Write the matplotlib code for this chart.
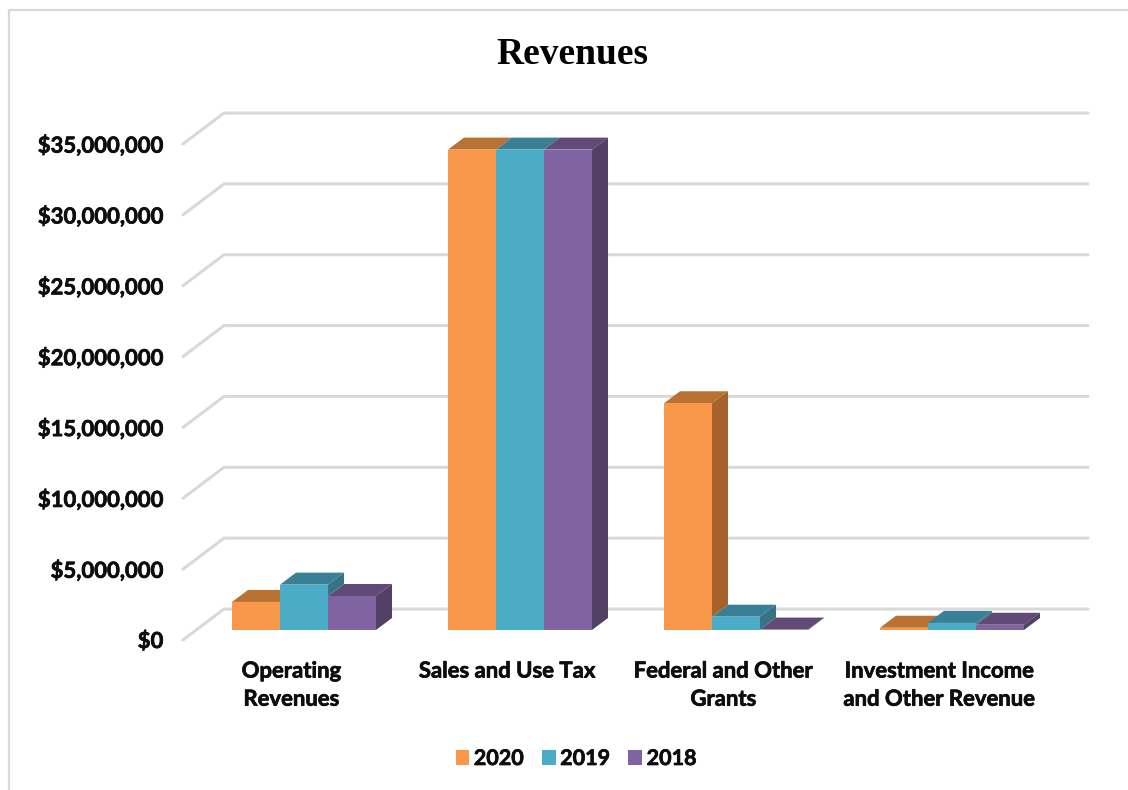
import matplotlib
matplotlib.use('Agg')
import matplotlib.pyplot as plt
import matplotlib.patheffects as pe
from matplotlib.patches import Polygon, Patch
from matplotlib.transforms import ScaledTranslation

categories = ['Operating\nRevenues', 'Sales and Use Tax', 'Federal and Other\nGrants',
              'Investment Income\nand Other Revenue']
rev_2020 = [1980000, 33900000, 16000000, 160000]
rev_2019 = [3200000, 33900000, 940000, 500000]
rev_2018 = [2400000, 33900000, 30000, 370000]
years = ['2020', '2019', '2018']
y_ticks = [0, 5000000, 10000000, 15000000, 20000000, 25000000, 30000000, 35000000]
y_labels = ['$0', '$5,000,000', '$10,000,000', '$15,000,000', '$20,000,000',
            '$25,000,000', '$30,000,000', '$35,000,000']

front_col = ['#F9974A', '#4AACC6', '#8064A2']
top_col = ['#B97232', '#398096', '#614A78']
side_col = ['#A5622B', '#357385', '#524065']
grid_col = '#D9D9D9'

W, H = 1128, 790
DPI = 100
plt.rcParams['font.family'] = ['Lato', 'DejaVu Sans']

fig = plt.figure(figsize=(W / DPI, H / DPI), dpi=DPI)
# axes box is the plane of the bar fronts, in pixels of the picture
left, right, base, top = 196, 1060, 630, 134
ax = fig.add_axes([left / W, 1 - base / H, (right - left) / W, (base - top) / H])
ax.set_xlim(-0.5, 3.5)
ax.set_ylim(0, 35000000)
ax.patch.set_visible(False)
for s in ax.spines.values():
    s.set_visible(False)

px_x = 4 / (right - left)
px_y = 35000000 / (base - top)


def off(x, y, dx, dy):
    # shift a data point by a depth offset given in pixels
    return x + dx * px_x, y + dy * px_y


# floor and wall lines
for v in y_ticks:
    x0, y0 = off(-0.5, v, -13, -10)
    x1, y1 = off(-0.5, v, 28, 21)
    x2, y2 = off(3.5, v, 28, 21)
    ax.plot([x0, x1, x2], [y0, y1, y2], color=grid_col, lw=2.2, clip_on=False,
            solid_joinstyle='miter', solid_capstyle='round', zorder=1)

series = [rev_2020, rev_2019, rev_2018]
width = 48 / 216
depth_x, depth_y = 16, 12

for c in range(len(categories)):
    # tops first, then fronts, sides last so a taller bar hides its neighbour's top
    for i, vals in enumerate(series):
        x = c + (i - 1) * width - width / 2
        v = vals[c]
        pts = [(x, v), off(x, v, depth_x, depth_y), off(x + width, v, depth_x, depth_y), (x + width, v)]
        ax.add_patch(Polygon(pts, facecolor=top_col[i], edgecolor='none', clip_on=False, zorder=2))
        ax.bar(x + width / 2, v, width, color=front_col[i], linewidth=0, zorder=3)
    for i, vals in enumerate(series):
        x = c + (i - 1) * width + width / 2
        v = vals[c]
        low = series[i + 1][c] if i < 2 else 0
        if v > low:
            pts = [(x, low), off(x, low, depth_x, depth_y), off(x, v, depth_x, depth_y), (x, v)]
            ax.add_patch(Polygon(pts, facecolor=side_col[i], edgecolor='none', clip_on=False, zorder=4))

FS = 15.9
# Lato bold is a bit light next to the original, thicken it slightly
heavy = [pe.withStroke(linewidth=0.5, foreground='#0d0d0d')]
ax.set_yticks(y_ticks)
ax.set_yticklabels(y_labels, fontsize=FS, fontweight='bold', color='#0d0d0d')
ax.set_xticks(range(len(categories)))
ax.set_xticklabels(categories, fontsize=FS, fontweight='bold', color='#0d0d0d', linespacing=1.42)
ax.tick_params(axis='y', length=0, pad=23.5)
ax.tick_params(axis='x', length=0, pad=22)
for lab in ax.get_yticklabels():
    lab.set_transform(lab.get_transform() + ScaledTranslation(0, -9.5 / DPI, fig.dpi_scale_trans))
    lab.set_path_effects(heavy)
for lab in ax.get_xticklabels():
    lab.set_transform(lab.get_transform() + ScaledTranslation(-12.5 / DPI, 0, fig.dpi_scale_trans))
    lab.set_path_effects(heavy)

fig.text(572 / W, 1 - 54 / H, 'Revenues', family='Liberation Serif', fontweight='bold',
         fontsize=27, ha='center', va='center', color='black')

handles = [Patch(facecolor=front_col[i], label=years[i]) for i in range(3)]
leg = fig.legend(handles=handles, loc='center', bbox_to_anchor=(576 / W, 1 - 758.5 / H), ncol=3, frameon=False,
                 prop={'size': 15.5, 'weight': 'bold'}, handlelength=0.65, handleheight=0.65,
                 handletextpad=0.2, columnspacing=0.85, labelcolor='#0d0d0d')
for t in leg.get_texts():
    t.set_path_effects(heavy)

# chart frame, open on the right and bottom
fig.add_artist(plt.Line2D([8.5 / W, 8.5 / W, 1], [0, 1 - 9.5 / H, 1 - 9.5 / H], color=grid_col, lw=1.6))

fig.savefig('out.png', dpi=DPI)
